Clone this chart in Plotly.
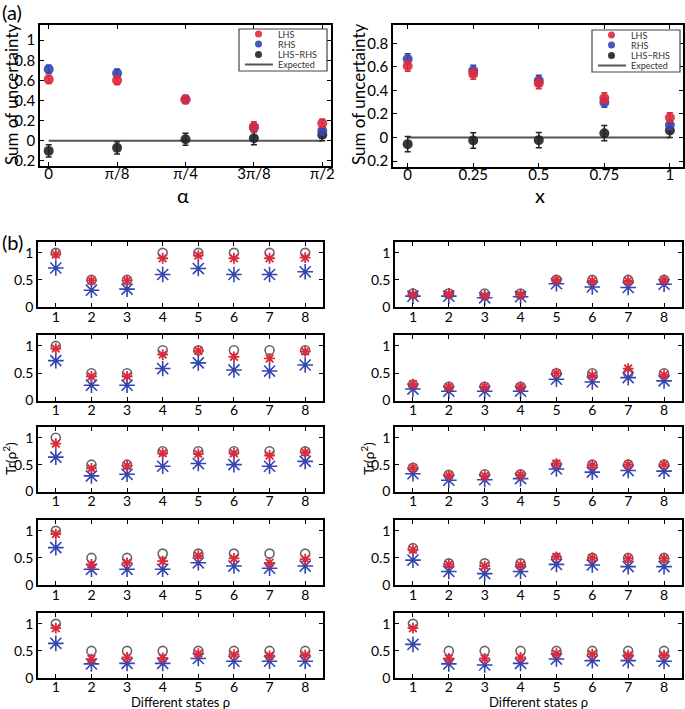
import numpy as np
import plotly.graph_objects as go

# ---------------- data: panel (a) ----------------
alpha_vals = [0, np.pi/8, np.pi/4, 3*np.pi/8, np.pi/2]
alpha_ticktext = ["0", "π/8", "π/4", "3π/8", "π/2"]
alpha_lhs = [0.61, 0.60, 0.41, 0.14, 0.175]
alpha_rhs = [0.71, 0.67, 0.41, 0.13, 0.10]
alpha_diff = [-0.10, -0.07, 0.015, 0.025, 0.06]
alpha_err_lhs = [0.04, 0.04, 0.04, 0.05, 0.04]
alpha_err_rhs = [0.04, 0.04, 0.04, 0.04, 0.04]
alpha_err_diff = [0.06, 0.06, 0.06, 0.065, 0.06]

x_vals = [0, 0.25, 0.5, 0.75, 1]
x_ticktext = ["0", "0.25", "0.5", "0.75", "1"]
x_lhs = [0.607, 0.54, 0.46, 0.335, 0.17]
x_rhs = [0.667, 0.568, 0.483, 0.297, 0.107]
x_diff = [-0.056, -0.025, -0.022, 0.037, 0.06]
x_err_lhs = [0.045, 0.045, 0.045, 0.045, 0.04]
x_err_rhs = [0.045, 0.045, 0.045, 0.04, 0.04]
x_err_diff = [0.065, 0.065, 0.065, 0.065, 0.06]

legend_labels = ["LHS", "RHS", "LHS−RHS", "Expected"]

# ---------------- data: panel (b) ----------------
states = [1, 2, 3, 4, 5, 6, 7, 8]
left_expected = [
    [1.0, 0.5, 0.5, 1.0, 1.0, 1.0, 1.0, 1.0],
    [1.0, 0.5, 0.5, 0.92, 0.92, 0.92, 0.92, 0.92],
    [1.0, 0.5, 0.5, 0.75, 0.75, 0.75, 0.75, 0.75],
    [1.0, 0.5, 0.5, 0.58, 0.58, 0.58, 0.58, 0.58],
    [1.0, 0.5, 0.5, 0.5, 0.5, 0.5, 0.5, 0.5],
]
left_red = [
    [0.97, 0.49, 0.49, 0.90, 0.95, 0.90, 0.90, 0.91],
    [0.95, 0.44, 0.44, 0.84, 0.91, 0.80, 0.77, 0.90],
    [0.89, 0.43, 0.48, 0.71, 0.70, 0.71, 0.67, 0.73],
    [0.94, 0.38, 0.41, 0.44, 0.54, 0.49, 0.41, 0.475],
    [0.92, 0.35, 0.38, 0.37, 0.45, 0.43, 0.41, 0.42],
]
left_blue = [
    [0.72, 0.31, 0.33, 0.60, 0.71, 0.60, 0.60, 0.65],
    [0.73, 0.28, 0.28, 0.585, 0.69, 0.56, 0.54, 0.65],
    [0.64, 0.29, 0.32, 0.47, 0.52, 0.50, 0.47, 0.56],
    [0.69, 0.29, 0.29, 0.29, 0.41, 0.35, 0.31, 0.35],
    [0.64, 0.26, 0.27, 0.27, 0.36, 0.31, 0.31, 0.31],
]
right_expected = [
    [0.25, 0.25, 0.25, 0.25, 0.5, 0.5, 0.5, 0.5],
    [0.29, 0.25, 0.25, 0.25, 0.5, 0.5, 0.5, 0.5],
    [0.44, 0.31, 0.32, 0.32, 0.5, 0.5, 0.5, 0.5],
    [0.68, 0.40, 0.40, 0.40, 0.5, 0.5, 0.5, 0.5],
    [1.0, 0.5, 0.5, 0.5, 0.5, 0.5, 0.5, 0.5],
]
right_red = [
    [0.23, 0.24, 0.21, 0.23, 0.50, 0.48, 0.48, 0.50],
    [0.30, 0.25, 0.25, 0.25, 0.50, 0.46, 0.585, 0.47],
    [0.44, 0.30, 0.29, 0.31, 0.52, 0.49, 0.50, 0.50],
    [0.65, 0.38, 0.35, 0.37, 0.52, 0.50, 0.49, 0.49],
    [0.92, 0.36, 0.36, 0.38, 0.45, 0.44, 0.42, 0.42],
]
right_blue = [
    [0.20, 0.20, 0.17, 0.19, 0.43, 0.37, 0.36, 0.42],
    [0.21, 0.17, 0.17, 0.17, 0.39, 0.34, 0.42, 0.36],
    [0.33, 0.21, 0.22, 0.24, 0.42, 0.36, 0.39, 0.38],
    [0.46, 0.25, 0.21, 0.25, 0.38, 0.37, 0.34, 0.34],
    [0.62, 0.26, 0.24, 0.27, 0.35, 0.32, 0.32, 0.31],
]

# ---------------- style ----------------
RED = "#dc2a3c"
BLUE = "#3346b0"
BLACK = "#222222"
GRAY = "#666666"
LINEGRAY = "#555555"
FONT = "Lato, 'Open Sans', sans-serif"
W, H = 685, 709

def xd(a, b):
    return [a / W, b / W]

def yd(top, bottom):
    return [1 - bottom / H, 1 - top / H]

def px(x):
    return x / W

def py(y):
    return 1 - y / H

fig = go.Figure()

axis_common = dict(showline=True, linecolor="black", linewidth=1.5, mirror="ticks",
                   ticks="inside", ticklen=4, tickwidth=1, tickcolor="black", automargin=False,
                   showgrid=False, zeroline=False, tickfont=dict(family=FONT, size=15, color="black"))

layout = dict(width=W, height=H, margin=dict(l=0, r=0, t=0, b=0),
              paper_bgcolor="white", plot_bgcolor="white",
              font=dict(family=FONT, color="black"), showlegend=False)

# ---- panel (a) ----
layout["xaxis"] = dict(axis_common, domain=xd(40, 331), anchor="y",
                       range=[-0.05, np.pi/2 + 0.05], tickvals=alpha_vals, ticktext=alpha_ticktext,
                       ticklabelstandoff=-7)
layout["yaxis"] = dict(axis_common, domain=yd(25, 166), anchor="x", range=[-0.25, 1.15],
                       tickvals=[-0.2, 0, 0.2, 0.4, 0.6, 0.8, 1],
                       ticktext=["0.2", "0", "0.2", "0.4", "0.6", "0.8", "1"])
layout["xaxis2"] = dict(axis_common, domain=xd(393, 683), anchor="y2",
                        range=[-0.056, 1.05], tickvals=x_vals, ticktext=x_ticktext,
                        ticklabelstandoff=-7)
layout["yaxis2"] = dict(axis_common, domain=yd(25, 167), anchor="x2", range=[-0.25, 0.955],
                        tickvals=[-0.2, 0, 0.2, 0.4, 0.6, 0.8],
                        ticktext=["0.2", "0", "0.2", "0.4", "0.6", "0.8"])

def add_a(xs, lhs, rhs, diff, elhs, erhs, ediff, xa, ya):
    fig.add_trace(go.Scatter(x=[xs[0], xs[-1]], y=[0, 0], mode="lines", name=legend_labels[3],
                             xaxis=xa, yaxis=ya, line=dict(color=LINEGRAY, width=2)))
    for ys, es, col, name in [(diff, ediff, BLACK, legend_labels[2]), (rhs, erhs, BLUE, legend_labels[1]),
                              (lhs, elhs, RED, legend_labels[0])]:
        fig.add_trace(go.Scatter(x=xs, y=ys, mode="markers", name=name,
                                 xaxis=xa, yaxis=ya,
                                 marker=dict(color=col, size=10, opacity=0.9),
                                 error_y=dict(type="data", array=es, color=col, thickness=1.5, width=3)))

add_a(alpha_vals, alpha_lhs, alpha_rhs, alpha_diff, alpha_err_lhs, alpha_err_rhs, alpha_err_diff, "x", "y")
add_a(x_vals, x_lhs, x_rhs, x_diff, x_err_lhs, x_err_rhs, x_err_diff, "x2", "y2")

shapes = []
annotations = []

# hand-drawn compact legends (box, symbols, labels)
def legend_box(left, top):
    w, h = 88, 42
    shapes.append(dict(type="rect", xref="paper", yref="paper", x0=px(left), x1=px(left + w),
                       y0=py(top + h), y1=py(top), line=dict(color="#444444", width=1.2),
                       fillcolor="white", layer="above"))
    rows = [top + 5, top + 15, top + 25.5, top + 35.5]
    cols = [RED, BLUE, BLACK]
    for i in range(3):
        cx, cy = left + 19.5, rows[i]
        shapes.append(dict(type="circle", xref="paper", yref="paper",
                           x0=px(cx - 3.5), x1=px(cx + 3.5), y0=py(cy + 3.5), y1=py(cy - 3.5),
                           fillcolor=cols[i], line=dict(color=cols[i], width=0), opacity=0.9, layer="above"))
    shapes.append(dict(type="line", xref="paper", yref="paper", x0=px(left + 6), x1=px(left + 34),
                       y0=py(rows[3]), y1=py(rows[3]), line=dict(color=LINEGRAY, width=2), layer="above"))
    for i in range(4):
        annotations.append(dict(text=legend_labels[i], x=px(left + 37), y=py(rows[i]), xref="paper", yref="paper",
                                xanchor="left", yanchor="middle", showarrow=False,
                                font=dict(family=FONT, size=9, color="#333333")))

legend_box(239, 29)
legend_box(592, 30)

# ---- panel (b) ----
row_tops = [242, 335, 427, 520, 613]
row_bottoms = [307, 400.5, 491.5, 585, 678]
col_x = [(38, 323), (395, 682)]
col_data = [(left_expected, left_red, left_blue), (right_expected, right_red, right_blue)]

ax = 3
for c in range(2):
    exp_rows, red_rows, blue_rows = col_data[c]
    for r in range(5):
        xn, yn = f"xaxis{ax}", f"yaxis{ax}"
        layout[xn] = dict(axis_common, domain=xd(*col_x[c]), anchor=f"y{ax}", range=[0.5, 8.5],
                          tickvals=states, tickfont=dict(family=FONT, size=14, color="black"),
                          ticklabelstandoff=-5 if r == 4 else -4)
        layout[yn] = dict(axis_common, domain=yd(row_tops[r], row_bottoms[r]), anchor=f"x{ax}",
                          range=[0, 1.2], tickvals=[0, 0.5, 1], ticktext=["0", "0.5", "1"],
                          tickfont=dict(family=FONT, size=14, color="black"))
        xa, ya = f"x{ax}", f"y{ax}"
        fig.add_trace(go.Scatter(x=states, y=exp_rows[r], mode="markers",
                                 xaxis=xa, yaxis=ya,
                                 marker=dict(symbol="circle-open", size=9, color=GRAY, line=dict(width=1.6, color=GRAY))))
        fig.add_trace(go.Scatter(x=states, y=blue_rows[r], mode="markers",
                                 xaxis=xa, yaxis=ya,
                                 marker=dict(symbol="asterisk-open", size=13, color=BLUE, line=dict(width=1.6, color=BLUE))))
        fig.add_trace(go.Scatter(x=states, y=red_rows[r], mode="markers",
                                 xaxis=xa, yaxis=ya,
                                 marker=dict(symbol="asterisk-open", size=9, color=RED, line=dict(width=1.8, color=RED))))
        ax += 1

def label(text, x, y, size, angle=0):
    annotations.append(dict(text=text, x=px(x), y=py(y), xref="paper", yref="paper",
                            xanchor="center", yanchor="middle", showarrow=False, textangle=angle,
                            font=dict(family=FONT, size=size, color="black")))

label("Sum of uncertainty", 11, 95, 17, -90)
label("Sum of uncertainty", 358, 95, 17, -90)
label("α", 183, 195, 20)
label("x", 540, 195, 20)
label("Tr(ρ<sup>2</sup>)", 9, 459, 14, -90)
label("Tr(ρ<sup>2</sup>)", 367, 459, 14, -90)
label("Different states ρ", 180, 701.5, 13)
label("Different states ρ", 538, 701.5, 13)
annotations.append(dict(text="(a)", x=0, y=py(12), xref="paper", yref="paper", xanchor="left", yanchor="middle",
                        showarrow=False, font=dict(family=FONT, size=20, color="black")))
annotations.append(dict(text="(b)", x=0, y=py(242), xref="paper", yref="paper", xanchor="left", yanchor="middle",
                        showarrow=False, font=dict(family=FONT, size=20, color="black")))

layout["annotations"] = annotations
layout["shapes"] = shapes

fig.update_layout(**layout)
fig.write_html("out.html", config={"displayModeBar": False},
               post_script="document.body.style.margin='0px';document.body.style.overflow='hidden';")
